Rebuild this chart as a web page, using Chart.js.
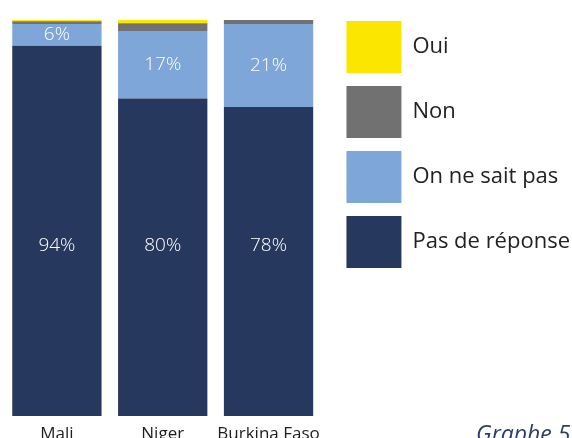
<!DOCTYPE html>
<html>
<head>
<meta charset="utf-8">
<script src="https://cdn.jsdelivr.net/npm/chart.js@4"></script>
<style>
  html, body { margin: 0; padding: 0; background: #fff; overflow: hidden; }
  #wrap { position: relative; width: 572px; height: 438px; }
  #note { position: absolute; left: 476px; top: 417px; font-family: "Open Sans", sans-serif; font-style: italic; font-size: 23px; color: #2f3d63; white-space: nowrap; }
</style>
</head>
<body>
<div id="wrap">
  <canvas id="c" width="572" height="438"></canvas>
  <div id="note">Graphe 5</div>
</div>
<script>
const categories = ['Mali', 'Niger', 'Burkina Faso'];
const seriesNames = ['Pas de réponse', 'On ne sait pas', 'Non', 'Oui'];
const pasDeReponse = [93.5, 80.2, 78];
const onNeSaitPas = [5.5, 17, 21];
const non = [0.7, 2, 1];
const oui = [0.3, 0.8, 0];
const colors = ['#26385e', '#7ea6d8', '#717171', '#fbe600'];
const labelledSeries = [0, 1];

const valueLabels = {
  id: 'valueLabels',
  afterDatasetsDraw(chart) {
    const ctx = chart.ctx;
    const y = chart.scales.y;
    ctx.save();
    ctx.fillStyle = '#ffffff';
    ctx.font = '300 19px "Open Sans", sans-serif';
    ctx.textAlign = 'center';
    ctx.textBaseline = 'middle';
    labelledSeries.forEach(di => {
      const meta = chart.getDatasetMeta(di);
      meta.data.forEach((el, i) => {
        const v = chart.data.datasets[di].data[i];
        const py = di === 0 ? y.getPixelForValue(43) : (el.y + el.base) / 2;
        ctx.fillText(Math.round(v) + '%', el.x, py);
      });
    });
    ctx.restore();
  }
};

const allSeries = [pasDeReponse, onNeSaitPas, non, oui];
new Chart(document.getElementById('c'), {
  type: 'bar',
  data: {
    labels: categories,
    datasets: allSeries.map((d, i) => ({
      label: seriesNames[i],
      data: d,
      backgroundColor: colors[i],
      borderWidth: 0,
      barPercentage: 0.844,
      categoryPercentage: 1
    }))
  },
  options: {
    responsive: false,
    animation: false,
    layout: { padding: { left: 4, right: -8, top: 8, bottom: 0 } },
    plugins: {
      tooltip: { enabled: false },
      title: {
        display: true,
        text: '',
        fullSize: false,
        padding: 0,
        font: { size: 10, lineHeight: 1.2 }
      },
      legend: {
        position: 'right',
        align: 'start',
        reverse: true,
        maxWidth: 400,
        labels: {
          boxWidth: 55,
          boxHeight: 52,
          padding: 13,
          color: '#222222',
          font: { family: '"Open Sans", sans-serif', size: 22 }
        }
      }
    },
    scales: {
      x: {
        stacked: true,
        grid: { display: false },
        border: { display: false },
        ticks: { color: '#1e1e1e', font: { family: '"Open Sans", sans-serif', size: 17 }, padding: 0, maxRotation: 0 },
        afterFit: s => { s.height = 22; }
      },
      y: {
        stacked: true,
        position: 'right',
        min: 0, max: 100,
        grid: { display: false },
        border: { display: false },
        ticks: { display: false },
        afterFit: s => { s.width = 12; }
      }
    }
  },
  plugins: [valueLabels]
});
</script>
</body>
</html>
